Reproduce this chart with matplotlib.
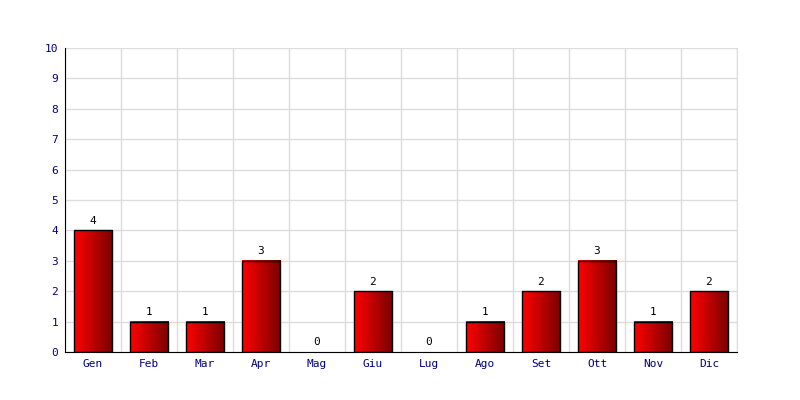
import numpy as np
import matplotlib
matplotlib.use('Agg')
import matplotlib.pyplot as plt
from matplotlib.colors import LinearSegmentedColormap

# dati
mesi = ['Gen', 'Feb', 'Mar', 'Apr', 'Mag', 'Giu', 'Lug', 'Ago', 'Set', 'Ott', 'Nov', 'Dic']
valori = [4, 1, 1, 3, 0, 2, 0, 1, 2, 3, 1, 2]
y_ticks = list(range(0, 11))

plt.rcParams['font.family'] = ['DejaVu Sans Mono']

fig = plt.figure(figsize=(8, 4), dpi=100)
ax = fig.add_axes([0.08125, 0.12, 0.84, 0.76])

x = np.arange(len(mesi))
larghezza = 0.68
sfumatura = LinearSegmentedColormap.from_list('rosso', ['#ff0000', '#7a0000'])
grad = np.linspace(0, 1, 64).reshape(1, -1)

for xi, v in zip(x, valori):
    if v > 0:
        ax.imshow(grad, cmap=sfumatura, aspect='auto', interpolation='bilinear',
                  extent=(xi - larghezza / 2, xi + larghezza / 2, 0, v), zorder=2)
        ax.bar(xi, v, width=larghezza, facecolor='none', edgecolor='black',
               linewidth=1, zorder=3)
    ax.text(xi, v + 0.15, str(v), ha='center', va='bottom', fontsize=8,
            color='black', zorder=4)

ax.set_xlim(-0.5, len(mesi) - 0.5)
ax.set_ylim(0, 10)
ax.set_xticks(x)
ax.set_xticklabels(mesi)
ax.set_yticks(y_ticks)
ax.tick_params(axis='both', length=0, labelsize=8, colors='#000080', pad=5)

# griglia tra le categorie
ax.set_xticks(np.arange(-0.5, len(mesi)), minor=True)
ax.tick_params(axis='x', which='minor', length=0)
ax.grid(True, which='minor', axis='x', color='#dcdcdc', linewidth=1, zorder=0)
ax.grid(True, which='major', axis='y', color='#dcdcdc', linewidth=1, zorder=0)
ax.set_axisbelow(True)

ax.spines['top'].set_visible(False)
ax.spines['right'].set_color('#dcdcdc')
ax.spines['left'].set_color('black')
ax.spines['bottom'].set_color('black')

fig.savefig('out.png', dpi=100)
